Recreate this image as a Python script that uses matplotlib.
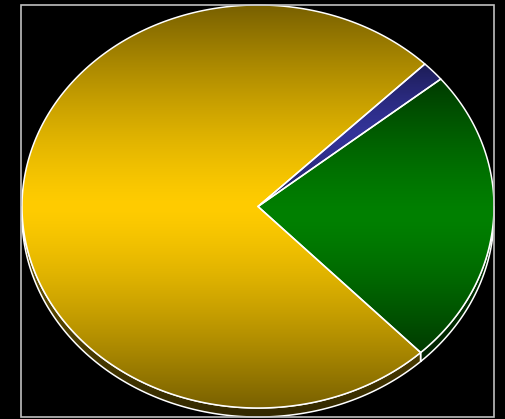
import numpy as np
import matplotlib
matplotlib.use('Agg')
import matplotlib.pyplot as plt
from matplotlib.patches import Polygon, Rectangle
from matplotlib.colors import to_rgb

# slice shares (%), clockwise from the start angle
values = [1.6, 23.8, 74.6]
colors = ['#333399', '#008000', '#ffcc00']
edge_dark = [0.55, 0.45, 0.47]
start_angle = 45

cx, cy, rx, ry, depth = 258, 206.5, 236, 201.5, 9

fig = plt.figure(figsize=(5.06, 4.19), dpi=100, facecolor='black')
ax = fig.add_axes([0, 0, 1, 1])
ax.set_xlim(0, 506)
ax.set_ylim(419, 0)
ax.axis('off')


def arc(t1, t2, dy=0, n=300):
    t = np.radians(np.linspace(t1, t2, n))
    return np.column_stack([cx + rx * np.cos(t), cy + dy - ry * np.sin(t)])


def shade(color, f, pts, patch, z, scale=1.0):
    rgb = np.array(to_rgb(color))
    ylo, yhi = pts[:, 1].min(), pts[:, 1].max()
    xlo, xhi = pts[:, 0].min(), pts[:, 0].max()
    ys = np.linspace(ylo, yhi, 256)
    t = np.abs(ys - (ylo + yhi) / 2) / ((yhi - ylo) / 2)
    b = (1 - (1 - f) * t ** 1.35) * scale
    img = b[:, None, None] * rgb[None, None, :]
    im = ax.imshow(img, extent=(xlo - 1, xhi + 1, yhi + 1, ylo - 1), aspect='auto',
                   interpolation='bilinear', zorder=z)
    im.set_clip_path(patch)


angles = []
a = start_angle
for v in values:
    a2 = a - v / sum(values) * 360
    angles.append((a, a2))
    a = a2

# side of the pie (front half only)
full = np.vstack([arc(0, -180), arc(-180, 0, dy=depth), [[cx, cy - ry]]])
for (t1, t2), c, f in zip(angles, colors, edge_dark):
    for k in range(-2, 2):
        lo, hi = max(t2, -180 + 360 * k), min(t1, 360 * k)
        if hi <= lo:
            continue
        pts = np.vstack([arc(lo, hi), arc(hi, lo, dy=depth)])
        p = Polygon(pts, closed=True, facecolor='none', edgecolor='white', lw=1.1, zorder=2)
        ax.add_patch(p)
        shade(c, f, full, p, 1, scale=0.42)

# top of the pie
for (t1, t2), c, f in zip(angles, colors, edge_dark):
    pts = np.vstack([[cx, cy], arc(t1, t2)])
    p = Polygon(pts, closed=True, facecolor='none', edgecolor='white', lw=1.1, zorder=4)
    ax.add_patch(p)
    shade(c, f, pts, p, 3)

ax.add_patch(Rectangle((21, 5), 473, 412, fill=False, edgecolor='#c0c0c0', lw=1.2, zorder=5))

fig.savefig('out.png', dpi=100, facecolor='black')
